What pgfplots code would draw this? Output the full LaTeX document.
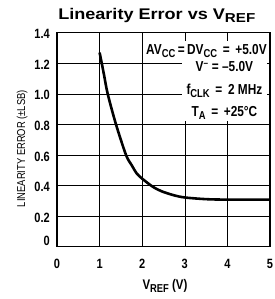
\documentclass[border=0pt]{standalone}
\usepackage{pgfplots}
\pgfplotsset{compat=1.18}
\usepackage{fontspec}
\setmainfont[FakeStretch=0.82]{Liberation Sans}
\newfontfamily\titlefont[FakeStretch=1.17]{Liberation Sans}
\newcommand{\lo}[2][3bp]{\raisebox{-#1}{\fontsize{11.5}{11.5}\selectfont #2}}
\begin{document}
\begin{tikzpicture}
\path[use as bounding box] (-57bp,-52.3bp) rectangle (218bp,246.7bp);
\begin{axis}[
  scale only axis,
  width=213bp, height=214bp,
  xmin=0, xmax=5, ymin=0, ymax=1.4,
  xtick={0,1,2,3,4,5},
  ytick={0,0.2,0.4,0.6,0.8,1.0,1.2,1.4},
  yticklabels={\raisebox{14bp}{0},0.2,0.4,0.6,0.8,1.0,1.2,1.4},
  /pgf/number format/assume math mode=true,
  tick label style={font=\fontsize{13.5}{14}\selectfont\bfseries},
  xticklabel style={anchor=base, yshift=-21.3bp},
  yticklabel style={anchor=east, inner xsep=0pt, xshift=-7bp, yshift=-1.5bp},
  grid=major,
  major grid style={black, line width=0.6pt},
  axis line style={line width=1.3pt},
  tick style={black, line width=0.6pt},
  major tick length=3pt,
  tick align=inside,
  xtick pos=bottom, ytick pos=left,
  title={\titlefont\bfseries\fontsize{15.5}{17}\selectfont Linearity Error vs V\raisebox{-3.5bp}{\fontsize{13}{13}\selectfont REF}},
  title style={at={(axis description cs:0.005,1.07)}, anchor=base west, inner sep=0pt, yshift=-7.5bp},
  xlabel={\bfseries\fontsize{14}{15}\selectfont V\lo{REF} (V)},
  ylabel={\fontsize{11.5}{12}\selectfont LINEARITY ERROR (\textpm LSB)},
  xlabel style={at={(axis description cs:0.507,0)}, anchor=base, yshift=-43bp, inner sep=0pt},
  ylabel style={at={(axis description cs:-0.164,0.458)}, anchor=center, inner sep=0pt},
]
\addplot[black, line width=2.6pt, smooth, tension=0.5] coordinates {
(1.00,1.27) (1.10,1.13) (1.19,1.00) (1.385,0.80) (1.62,0.60) (1.75,0.535) (1.87,0.48) (2.00,0.445) (2.25,0.392) (2.46,0.362) (2.75,0.336) (3.00,0.322) (3.50,0.311) (4.00,0.308) (5.00,0.308)
};
\node[anchor=base east, fill=white, inner xsep=2bp, inner ysep=3bp, font=\bfseries\fontsize{14.5}{15}\selectfont]
  at (axis description cs:0.995,0.900)
  {AV\lo{CC}\,=\,DV\lo{CC} \,=\, +5.0V};
\node[anchor=north, fill=white, inner xsep=1bp, inner ysep=1.5bp, minimum width=85bp, align=center, font=\bfseries\fontsize{14.5}{22.5}\selectfont]
  at (axis description cs:0.786,0.872)
  {V\textsuperscript{\fontsize{10}{10}\selectfont\textendash} = \textendash5.0V\\
   f\lo{CLK} \,=\, 2 MHz\\
   T\lo{A} \,=\, +25\textdegree C};
\end{axis}
\end{tikzpicture}
\end{document}
